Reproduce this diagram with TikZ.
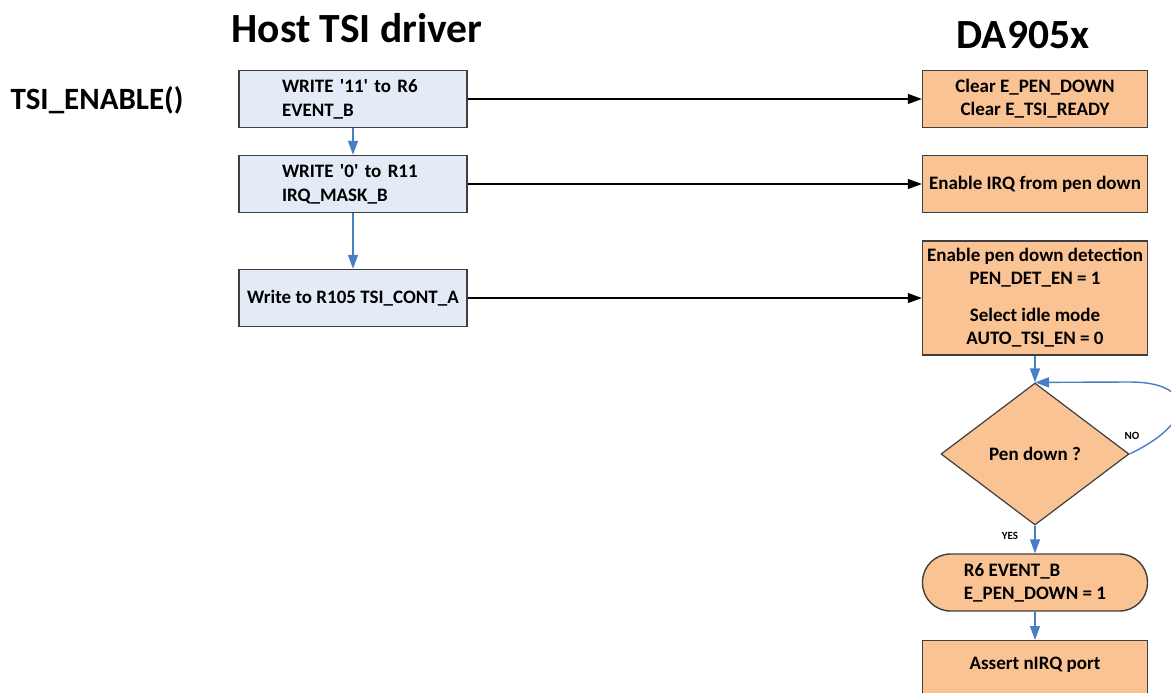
\documentclass[tikz,border=0pt]{standalone}
\usepackage{fontspec}
\setmainfont{Carlito}
\usetikzlibrary{arrows.meta,shapes.geometric}

\definecolor{hostfill}{HTML}{E3EBF6}
\definecolor{chipfill}{HTML}{FAC393}
\definecolor{boxedge}{HTML}{3F3F3F}
\definecolor{flowblue}{HTML}{4A7EC4}

\tikzset{
  hostbox/.style={draw=boxedge, line width=1.4pt, fill=hostfill, minimum width=228pt,
    minimum height=57pt, inner sep=0pt, font=\fontsize{19}{24}\selectfont\bfseries},
  chipbox/.style={draw=boxedge, line width=1.4pt, fill=chipfill, minimum width=225pt,
    minimum height=57pt, inner sep=0pt, align=center, font=\fontsize{19}{23}\selectfont\bfseries},
  regarrow/.style={-{Triangle[width=10pt,length=14pt]}, line width=1.2pt, black},
  flowarrow/.style={-{Triangle[width=10pt,length=14pt]}, line width=1.4pt, flowblue},
  tag/.style={font=\fontsize{11}{13}\selectfont\bfseries}
}

\begin{document}
\begin{tikzpicture}[x=1pt,y=-1pt]
\useasboundingbox (0,0) rectangle (1171,693);
\clip (0,0) rectangle (1171,693);

% Titulos
\node[font=\fontsize{41.5}{48}\selectfont\bfseries] (host) at (357,28) {Host TSI driver};
\node[font=\fontsize{41.5}{48}\selectfont\bfseries] (chip) at (1023,35) {DA905x};
\node[font=\fontsize{31}{37}\selectfont\bfseries] (enable) at (97,100) {TSI\_ENABLE()};

% Lado do host
\node[hostbox, text width=142pt, align=left] (w1) at (353,99)
  {WRITE \textquotesingle 11\textquotesingle{} to R6\\EVENT\_B};
\node[hostbox, text width=142pt, align=left] (w2) at (353,184)
  {WRITE \textquotesingle 0\textquotesingle{} to R11\\IRQ\_MASK\_B};
\node[hostbox, align=center] (w3) at (353,298) {Write to R105 TSI\_CONT\_A};

\draw[flowarrow] (w1) -- (w2);
\draw[flowarrow] (w2) -- (w3);

% Lado do DA905x
\node[chipbox] (c1) at (1035,99) {Clear E\_PEN\_DOWN\\Clear E\_TSI\_READY};
\node[chipbox] (c2) at (1035,184) {Enable IRQ from pen down};
\node[chipbox, minimum height=114pt] (c3) at (1035,298)
  {Enable pen down detection\\PEN\_DET\_EN = 1\\[14pt]Select idle mode\\AUTO\_TSI\_EN = 0};

% Setas de registo
\draw[regarrow] (w1) -- (c1);
\draw[regarrow] (w2) -- (c2);
\draw[regarrow] (w3) -- (c3);

% Decisao
\node[draw=boxedge, line width=1.2pt, fill=chipfill, diamond, aspect=1.32,
  minimum width=188pt, minimum height=142pt, inner sep=0pt,
  font=\fontsize{19}{22}\selectfont\bfseries] (pen) at (1035,454) {Pen down ?};
\node[chipbox, rounded corners=28pt, align=left] (pdown) at (1035,582.5)
  {R6 EVENT\_B\\E\_PEN\_DOWN = 1};
\node[chipbox, minimum height=100pt, anchor=north] (irq) at (1035,640) {};
\node[font=\fontsize{19}{22}\selectfont\bfseries] (irqtext) at (1035,665) {Assert nIRQ port};

\draw[flowarrow] (c3) -- (pen);
\draw[flowarrow] (pen) -- (pdown);
\draw[flowarrow] (pdown) -- (irq);
\draw[flowarrow] (pen.east) .. controls (1200,420) and (1192,382) .. (1130,382) -- (pen.north);

\node[tag] (no) at (1132,436) {NO};
\node[tag] (yes) at (1010,536) {YES};

\end{tikzpicture}
\end{document}
